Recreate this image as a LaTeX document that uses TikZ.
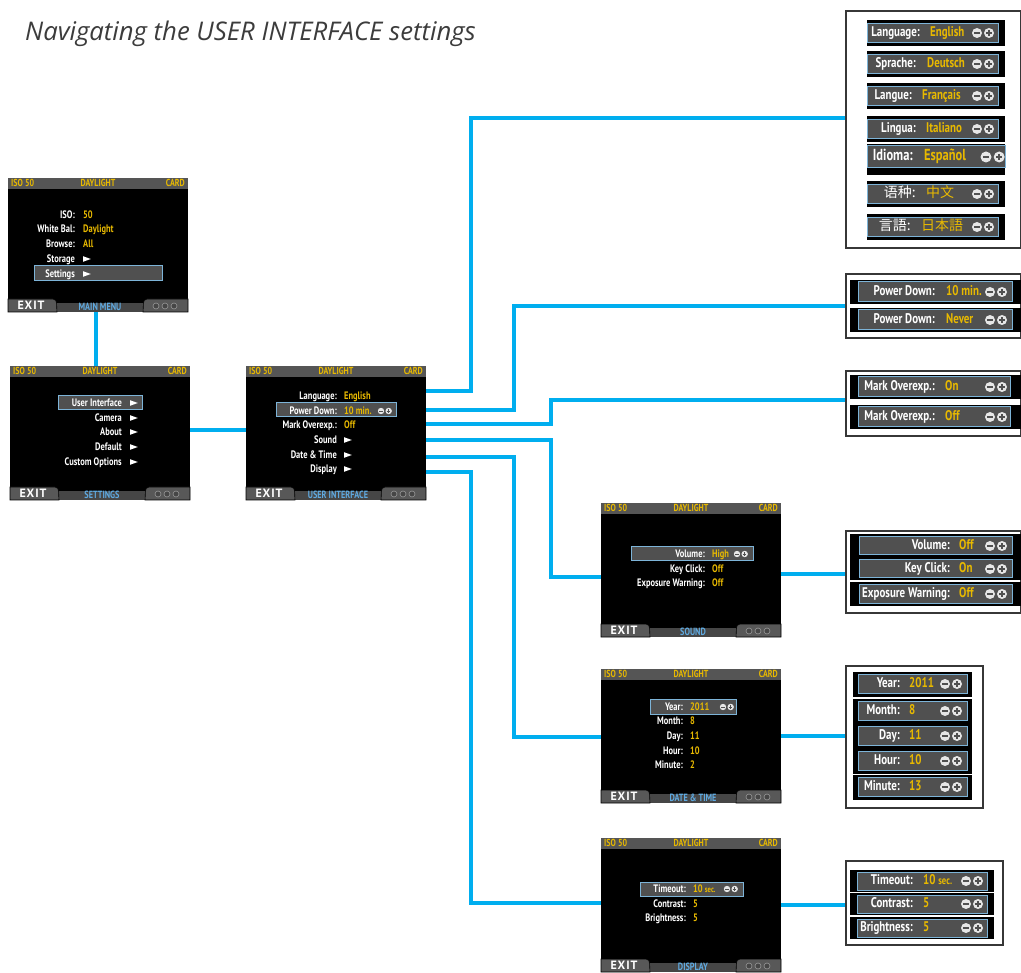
\documentclass[tikz,border=0pt]{standalone}
\usepackage{fontspec}
\setmainfont{PT Sans}
\newfontfamily\scr{PT Sans}[FakeStretch=0.78]
\newfontfamily\ttl{Open Sans}
\newfontfamily\cjksc{Noto Sans CJK SC}
\newfontfamily\cjkjp{Noto Sans CJK JP}
\definecolor{cyanline}{RGB}{0,174,239}
\definecolor{scryel}{RGB}{232,185,0}
\definecolor{bargray}{RGB}{85,85,85}
\definecolor{tabgray}{RGB}{88,88,88}
\definecolor{midgray}{RGB}{70,70,70}
\definecolor{hlgray}{RGB}{80,80,80}
\definecolor{hlblue}{RGB}{125,180,216}
\definecolor{tabblue}{RGB}{95,170,225}
\definecolor{iconw}{RGB}{230,230,230}
\definecolor{framec}{RGB}{55,55,55}
\definecolor{titlec}{RGB}{60,60,60}
\newcount\tncount
\tikzset{
  autoname/.code={\global\advance\tncount by 1\relax\pgfkeysalso{/tikz/name=tx\the\tncount}},
  conn/.style={draw=cyanline, line width=4pt},
  scrtxt/.style={autoname, inner sep=0, yshift=-0.8pt, font=\scr\bfseries\fontsize{10.8}{10.8}\selectfont},
  lb/.style={scrtxt, anchor=mid east, text=white},
  vl/.style={scrtxt, anchor=mid west, text=scryel},
  hl/.style={fill=hlgray, draw=hlblue, line width=1pt},
  panel/.style={draw=framec, line width=2pt, fill=white, anchor=north west, inner sep=0},
  plb/.style={autoname, inner sep=0, yshift=-1pt, anchor=mid east, text=white, font=\scr\bfseries\fontsize{14}{14}\selectfont},
  pvl/.style={autoname, inner sep=0, yshift=-1pt, anchor=mid west, text=scryel, font=\scr\bfseries\fontsize{14}{14}\selectfont},
}
\newcommand{\tri}[2]{\fill[white] (#1,#2-2.8) -- (#1+7.8,#2) -- (#1,#2+2.8) -- cycle;}
\newcommand{\mpicon}[3]{%
  \fill[iconw] (#1,#2) circle[radius=#3pt];
  \fill[iconw] (#1+2.4*#3,#2) circle[radius=#3pt];
  \draw[hlgray, line width=0.3*#3] (#1-0.55*#3,#2) -- (#1+0.55*#3,#2);
  \draw[hlgray, line width=0.3*#3] (#1+2.4*#3-0.55*#3,#2) -- (#1+2.4*#3+0.55*#3,#2)
     (#1+2.4*#3,#2-0.55*#3) -- (#1+2.4*#3,#2+0.55*#3);
}
\newcommand{\camscreen}[5]{%
\begin{scope}[shift={(#2,#3)}]
  \node[fill=black, inner sep=0, minimum width=180, minimum height=134, anchor=north west] (#1) at (0,0) {};
  \fill[bargray] (0,0) rectangle (180,11);
  \node[scrtxt, text=scryel, anchor=mid west, font=\scr\bfseries\fontsize{10.2}{10.2}\selectfont] at (3,5.5) {ISO 50};
  \node[scrtxt, text=scryel, anchor=mid, font=\scr\bfseries\fontsize{10.2}{10.2}\selectfont] at (90,5.5) {DAYLIGHT};
  \node[scrtxt, text=scryel, anchor=mid east, font=\scr\bfseries\fontsize{10.2}{10.2}\selectfont] at (177,5.5) {CARD};
  \fill[midgray] (0,125) rectangle (180,134);
  \filldraw[fill=tabgray, draw=black, line width=0.6] (0,134) -- (0,121) -- (45,121) to[out=0,in=100] (49,134) -- cycle;
  \filldraw[fill=tabgray, draw=black, line width=0.6] (180,134) -- (180,121) -- (139,121) to[out=180,in=80] (135,134) -- cycle;
  \node[scrtxt, text=white, anchor=mid, font=\bfseries\fontsize{12}{12}\selectfont\addfontfeature{LetterSpace=8}] at (23,128) {EXIT};
  \node[scrtxt, text=tabblue, anchor=mid, font=\scr\bfseries\fontsize{10.5}{10.5}\selectfont] at (92,129.5) {#4};
  \foreach \xx in {148,157,166} {\filldraw[fill=gray!55!black, draw=gray!80, line width=0.6] (\xx,128) circle[radius=3pt];}
  #5
\end{scope}}
\newcommand{\prow}[9]{%
  \fill[black] (#1,#5-\sh) rectangle (#2,#5+\sh);
  \draw[hl] (#3,#5-\bh) rectangle (#4,#5+\bh);
  \node[plb] at (#6,#5) {#7};
  \node[pvl] at (#8,#5) {#9};
}
\begin{document}
\begin{tikzpicture}[x=1pt,y=-1pt]
\useasboundingbox (0,0) rectangle (1021,973);
\fill[white] (0,0) rectangle (1021,973);
\node[anchor=base west, inner sep=0, text=titlec, font=\ttl\itshape\fontsize{25.7}{25.7}\selectfont] (title) at (25,41) {Navigating the USER INTERFACE settings};

% ---------- screens ----------
\camscreen{main}{8}{178}{MAIN MENU}{
  \draw[hl] (26,88) rectangle (154,103);
  \node[lb] at (67,37) {ISO:};        \node[vl] at (75,37) {50};
  \node[lb] at (67,51) {White Bal:};  \node[vl] at (75,51) {Daylight};
  \node[lb] at (67,66) {Browse:};     \node[vl] at (75,66) {All};
  \node[lb] at (67,81) {Storage};     \tri{75}{81}
  \node[lb] at (67,96) {Settings};    \tri{75}{96}
}
\camscreen{set}{10}{366}{SETTINGS}{
  \draw[hl] (48,30) rectangle (132,44);
  \node[lb] at (112,37) {User Interface}; \tri{120}{37}
  \node[lb] at (112,52) {Camera};         \tri{120}{52}
  \node[lb] at (112,66) {About};          \tri{120}{66}
  \node[lb] at (112,81) {Default};        \tri{120}{81}
  \node[lb] at (112,96) {Custom Options}; \tri{120}{96}
}
\camscreen{ui}{246}{366}{USER INTERFACE}{
  \draw[hl] (30,37) rectangle (150,51);
  \node[lb] at (91,30) {Language:};       \node[vl] at (98,30) {English};
  \node[lb] at (91,45) {Power Down:};     \node[vl] at (98,45) {10 min.}; \mpicon{135}{45}{3.2}
  \node[lb] at (91,59) {Mark Overexp.:};  \node[vl] at (98,59) {Off};
  \node[lb] at (91,74) {Sound};           \tri{98}{74}
  \node[lb] at (91,89) {Date \& Time};    \tri{98}{89}
  \node[lb] at (91,103) {Display};        \tri{98}{103}
}
\camscreen{snd}{601}{503}{SOUND}{
  \draw[hl] (30,44) rectangle (152,58);
  \node[lb] at (104,51) {Volume:};            \node[vl] at (111,51) {High}; \mpicon{136}{51}{3.2}
  \node[lb] at (104,66) {Key Click:};         \node[vl] at (111,66) {Off};
  \node[lb] at (104,80) {Exposure Warning:};  \node[vl] at (111,80) {Off};
}
\camscreen{dat}{601}{669}{DATE \& TIME}{
  \draw[hl] (49,30) rectangle (135,45);
  \node[lb] at (82,38) {Year:};    \node[vl] at (89,38) {2011}; \mpicon{122}{38}{3.2}
  \node[lb] at (82,52) {Month:};   \node[vl] at (89,52) {8};
  \node[lb] at (82,67) {Day:};     \node[vl] at (89,67) {11};
  \node[lb] at (82,82) {Hour:};    \node[vl] at (89,82) {10};
  \node[lb] at (82,96) {Minute:};  \node[vl] at (89,96) {2};
}
\camscreen{dsp}{601}{838}{DISPLAY}{
  \draw[hl] (39,44) rectangle (142,58);
  \node[lb] at (85,51) {Timeout:};     \node[vl] at (92,51) {10 {\fontsize{8.5}{8.5}\selectfont sec.}}; \mpicon{126}{51}{3.2}
  \node[lb] at (85,66) {Contrast:};    \node[vl] at (92,66) {5};
  \node[lb] at (85,80) {Brightness:};  \node[vl] at (92,80) {5};
}

% ---------- panels ----------
\node[panel, minimum width=175, minimum height=237] (pLang) at (845,10) {};
\def\sh{13}\def\bh{9.5}
\prow{867}{1005}{867}{998}{33}{920}{Language:}{930}{English}        \mpicon{977}{33}{5}
\prow{867}{1005}{867}{998}{64}{916}{Sprache:}{927}{Deutsch}         \mpicon{977}{64}{5}
\prow{867}{1005}{867}{998}{96}{912}{Langue:}{922}{Français}         \mpicon{977}{96}{5}
\prow{867}{1005}{867}{998}{129}{916}{Lingua:}{926}{Italiano}        \mpicon{977}{129}{5}
\fill[black] (867,144) rectangle (1005,175);
\draw[hl] (867,146) rectangle (1005,168);
\node[plb, font=\scr\bfseries\fontsize{16}{16}\selectfont] at (913,157) {Idioma:};
\node[pvl, font=\scr\bfseries\fontsize{16}{16}\selectfont] at (924,157) {Español};
\mpicon{986}{157}{5.5}
\prow{867}{1005}{867}{998}{194}{916}{\cjksc\mdseries 语种:}{926}{\cjksc\mdseries 中文}   \mpicon{977}{194}{5}
\prow{867}{1005}{867}{998}{227}{911}{\cjkjp\mdseries 言語:}{921}{\cjkjp\mdseries 日本語} \mpicon{977}{227}{5}

\node[panel, minimum width=175, minimum height=64] (pPow) at (845,273) {};
\def\sh{12}\def\bh{10}
\prow{850}{1021}{858}{1012}{292}{935}{Power Down:}{946}{10 min.}  \mpicon{990}{292}{5}
\prow{850}{1021}{858}{1012}{320}{935}{Power Down:}{946}{Never}    \mpicon{990}{320}{5}

\node[panel, minimum width=175, minimum height=65] (pMark) at (845,370) {};
\def\sh{12}\def\bh{10}
\prow{850}{1021}{858}{1010}{387}{935}{Mark Overexp.:}{945}{On}    \mpicon{990}{387}{5}
\prow{850}{1021}{858}{1010}{417}{935}{Mark Overexp.:}{945}{Off}   \mpicon{990}{417}{5}

\node[panel, minimum width=175, minimum height=82] (pSnd) at (845,530) {};
\def\sh{11.5}\def\bh{9}
\prow{850}{1021}{859}{1012}{546}{950}{Volume:}{959}{Off}              \mpicon{990}{546}{5}
\prow{850}{1021}{859}{1012}{569}{950}{Key Click:}{959}{On}            \mpicon{990}{569}{5}
\prow{850}{1021}{859}{1012}{594}{950}{Exposure Warning:}{959}{Off}    \mpicon{990}{594}{5}

\node[panel, minimum width=137, minimum height=142] (pDate) at (845,665) {};
\def\sh{12.5}\def\bh{9.5}
\prow{853}{972}{858}{967}{684}{900}{Year:}{909}{2011}    \mpicon{945}{684}{5}
\prow{853}{972}{858}{967}{711}{900}{Month:}{909}{8}      \mpicon{945}{711}{5}
\prow{853}{972}{858}{967}{736}{900}{Day:}{909}{11}       \mpicon{945}{736}{5}
\prow{853}{972}{858}{967}{761}{900}{Hour:}{909}{10}      \mpicon{945}{761}{5}
\prow{853}{972}{858}{967}{787}{900}{Minute:}{909}{13}    \mpicon{945}{787}{5}

\node[panel, minimum width=157, minimum height=84] (pDisp) at (845,860) {};
\def\sh{11}\def\bh{9}
\prow{850}{994}{857}{987}{881}{913}{Timeout:}{923}{10 {\fontsize{11}{11}\selectfont sec.}} \mpicon{966}{881}{5}
\prow{850}{994}{857}{987}{904}{913}{Contrast:}{923}{5}     \mpicon{966}{904}{5}
\prow{850}{994}{857}{987}{928}{913}{Brightness:}{923}{5}   \mpicon{966}{928}{5}

% ---------- connectors ----------
\coordinate (v1) at (96,0);
\coordinate (h1) at (0,430);
\coordinate (r1) at (0,391);
\coordinate (r2) at (0,410);
\coordinate (r3) at (0,424);
\coordinate (r4) at (0,440);
\coordinate (r5) at (0,457);
\coordinate (r6) at (0,472);
\coordinate (q1) at (0,118);
\coordinate (q2) at (0,306);
\coordinate (q3) at (0,400);
\coordinate (q4) at (0,577);
\coordinate (q5) at (0,737);
\coordinate (q6) at (0,903);
\coordinate (s1) at (0,574);
\coordinate (s2) at (0,736);
\coordinate (s3) at (0,905);
\draw[conn] (main.south -| v1) -- (set.north -| v1);
\draw[conn] (set.east |- h1) -- (ui.west |- h1);
\draw[conn] (ui.east |- r1) -- (471,391) -- (471,118) -- (pLang.west |- q1);
\draw[conn] (ui.east |- r2) -- (514,410) -- (514,306) -- (pPow.west |- q2);
\draw[conn] (ui.east |- r3) -- (551,424) -- (551,400) -- (pMark.west |- q3);
\draw[conn] (ui.east |- r4) -- (551,440) -- (551,577) -- (snd.west |- q4);
\draw[conn] (ui.east |- r5) -- (514,457) -- (514,737) -- (dat.west |- q5);
\draw[conn] (ui.east |- r6) -- (471,472) -- (471,903) -- (dsp.west |- q6);
\draw[conn] (snd.east |- s1) -- (pSnd.west |- s1);
\draw[conn] (dat.east |- s2) -- (pDate.west |- s2);
\draw[conn] (dsp.east |- s3) -- (pDisp.west |- s3);
\end{tikzpicture}
\end{document}
